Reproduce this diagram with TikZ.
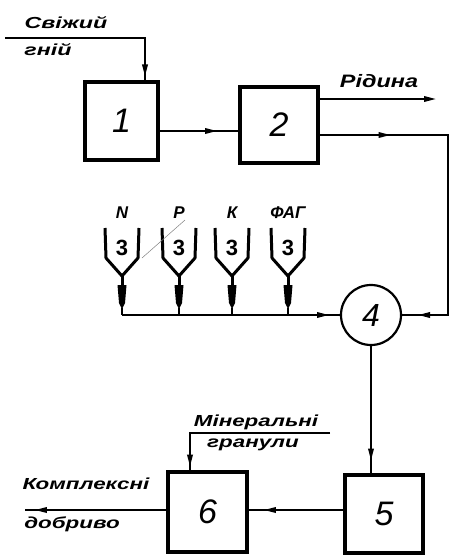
\documentclass[tikz,border=0pt]{standalone}
\usepackage{fontspec}
\setmainfont{Liberation Sans}
\usetikzlibrary{arrows.meta,decorations.markings}
\tikzset{
  blk/.style={draw,line width=3.5pt,inner sep=0pt,font=\fontsize{34}{34}\selectfont\itshape},
  conn/.style={line width=1.8pt},
  >={Triangle[length=12pt,width=5.5pt]},
  marr/.style={postaction={decorate},decoration={markings,mark=at position #1 with {\arrow{>}}}},
  lbl/.style={font=\fontsize{16}{16}\selectfont\bfseries\itshape,inner sep=0pt},
  hop/.style={line width=3pt,line join=round},
}
\begin{document}
\begin{tikzpicture}[x=1pt,y=-1pt]
\useasboundingbox (0,0) rectangle (455,557);
% blocks
\node[blk,minimum width=73pt,minimum height=78pt] (b1) at (121.5,121) {1};
\node[blk,minimum width=78pt,minimum height=76pt] (b2) at (279,125) {2};
\node[blk,minimum width=78pt,minimum height=78pt] (b5) at (384,514) {5};
\node[blk,minimum width=79pt,minimum height=80pt] (b6) at (207.5,512) {6};
\node[draw,circle,line width=2.2pt,minimum size=60pt,inner sep=0pt,font=\fontsize{32}{32}\selectfont\itshape] (c4) at (371,315) {4};
% labels
\node[lbl,xscale=1.45] (lsv) at (66,23) {Свіжий};
\node[lbl,xscale=1.45] (lgn) at (48,50) {гній};
\node[lbl,font=\fontsize{18}{18}\selectfont\bfseries\itshape,xscale=1.3] (lrd) at (379,81) {Рідина};
\node[lbl,xscale=1.4] (lmn) at (256,422) {Мінеральні};
\node[lbl,xscale=1.4] (lgr) at (253,445) {гранули};
\node[lbl,xscale=1.4] (lkm) at (86,484) {Комплексні};
\node[lbl,xscale=1.4] (ldb) at (72,524) {добриво};
% inputs / outputs
\coordinate (fg) at (5,38);
\draw[conn,marr=0.97] (fg) -- (145,38) -- (145,82);
\draw[conn,->] (b2.east |- 0,99) -- (436,99);
\draw[conn,marr=0.73] (b1.east |- 0,131) -- (b2.west |- 0,131);
\draw[conn,postaction={decorate},decoration={markings,mark=at position 0.2 with {\arrow{>}},mark=at position 0.955 with {\arrow{>}}}]
  (b2.east |- 0,135) -- (448,135) -- (448,315) -- (c4.east);
% hoppers
\foreach \i/\cx/\t in {1/122/N,2/179/Р,3/232/К,4/288/ФАГ} {
  \node[font=\fontsize{22}{22}\selectfont\bfseries,inner sep=0pt] (h\i) at (\cx,248) {3};
  \node[lbl,font=\fontsize{17}{17}\selectfont\bfseries\itshape] (t\i) at (\cx,213) {\t};
  \draw[hop] (\cx-17,228) -- (\cx-16,258) -- (\cx,276) -- (\cx+16,258) -- (\cx+17,228);
  \draw[hop] (\cx,276) -- (\cx,286);
  \fill (\cx-4.5,285) -- (\cx+4.5,285) -- (\cx+3,303) -- (\cx,309) -- (\cx-3,303) -- cycle;
  \coordinate (s\i) at (\cx,308);
  \coordinate (bus\i) at (\cx,315);
  \draw[conn] (s\i) -- (bus\i);
}
\draw[line width=0.5pt,gray] (142,258) -- (185,220);
\draw[conn,marr=0.95] (bus1) -- (c4.west);
% lower part
\draw[conn,marr=0.9] (c4.south) -- (c4.south |- b5.north);
\draw[conn,marr=0.84] (b5.west |- 0,510) -- (b6.east |- 0,510);
\coordinate (out6) at (25,510);
\draw[conn,marr=0.93] (b6.west |- 0,510) -- (out6);
\coordinate (mg) at (330,433);
\draw[conn,marr=0.97] (mg) -- (190,433) -- (190,472);
\end{tikzpicture}
\end{document}
